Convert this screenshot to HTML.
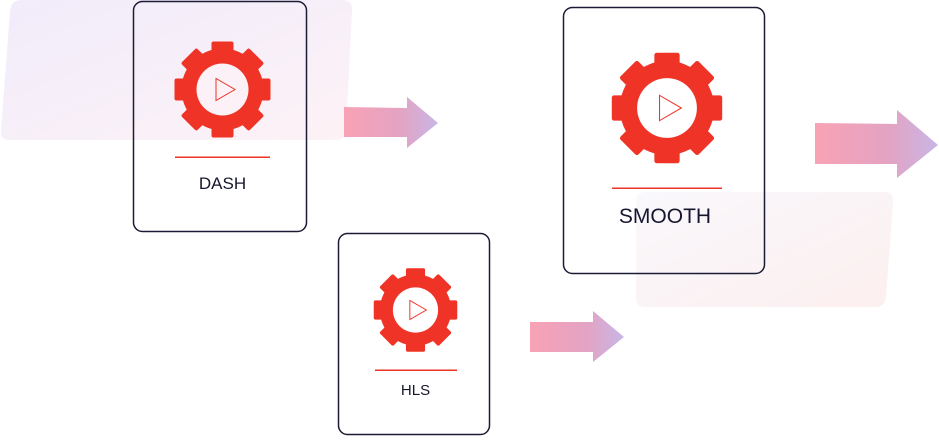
<!DOCTYPE html>
<html><head><meta charset="utf-8"><style>
html,body{margin:0;padding:0;background:#fff;}
body{width:939px;height:436px;overflow:hidden;}
svg text{font-family:"Liberation Sans",sans-serif;fill:#16162e;}
</style></head><body>
<svg width="939" height="436" viewBox="0 0 939 436" xmlns="http://www.w3.org/2000/svg">
<defs>
<linearGradient id="bg1" x1="0" y1="0" x2="1" y2="1">
<stop offset="0" stop-color="#f1ecfb"/><stop offset="1" stop-color="#fdf2f6"/></linearGradient>
<linearGradient id="bg2" x1="0" y1="0" x2="1" y2="1">
<stop offset="0" stop-color="#f9f8fc"/><stop offset="1" stop-color="#fcefef"/></linearGradient>
<linearGradient id="ar" x1="0" y1="0" x2="1" y2="0">
<stop offset="0" stop-color="#f9a2b5"/><stop offset="0.6" stop-color="#e3a3c3"/><stop offset="1" stop-color="#c8b6e6"/></linearGradient>
<g id="gear">
<circle r="41" fill="#ef3326"/>
<g fill="#ef3326">
<rect x="-11" y="-48" width="22" height="16" rx="2"/>
<rect x="-11" y="-48" width="22" height="16" rx="2" transform="rotate(45)"/>
<rect x="-11" y="-48" width="22" height="16" rx="2" transform="rotate(90)"/>
<rect x="-11" y="-48" width="22" height="16" rx="2" transform="rotate(135)"/>
<rect x="-11" y="-48" width="22" height="16" rx="2" transform="rotate(180)"/>
<rect x="-11" y="-48" width="22" height="16" rx="2" transform="rotate(225)"/>
<rect x="-11" y="-48" width="22" height="16" rx="2" transform="rotate(270)"/>
<rect x="-11" y="-48" width="22" height="16" rx="2" transform="rotate(315)"/>
</g>
</g>
</defs>
<path d="M22,0 H342 Q353,0 352,11 L346,130 Q345,140 335,140 H10 Q0,140 1,130 L10,11 Q11,0 22,0 Z" fill="url(#bg1)"/>
<path d="M646,192 H884 Q894,192 893,202 L886,297 Q885,307 875,307 H645 Q635,307 636,297 L636,202 Q636,192 646,192 Z" fill="url(#bg2)"/>

<!-- DASH -->
<rect x="133.5" y="1.5" width="173" height="230" rx="9" fill="none" stroke="#1b1b35" stroke-width="1.5"/>
<g transform="translate(222.5,89.5)">
<use href="#gear"/><circle r="26" fill="#fcf1f6"/>
<path d="M-6.5,-11 L-6.5,11 L12.5,0 Z" fill="none" stroke="#ef3326" stroke-width="1"/>
</g>
<rect x="175" y="156.5" width="95" height="1.5" fill="#ef3326"/>
<text x="222.5" y="189" font-size="17" text-anchor="middle">DASH</text>

<!-- SMOOTH -->
<rect x="563.5" y="7.5" width="201" height="266" rx="9" fill="none" stroke="#1b1b35" stroke-width="1.5"/>
<g transform="translate(667,108) scale(1.15)">
<use href="#gear"/><circle r="26" fill="#fff"/>
<path d="M-6.5,-11 L-6.5,11 L12.5,0 Z" fill="none" stroke="#ef3326" stroke-width="0.9"/>
</g>
<rect x="612" y="187.5" width="110" height="1.5" fill="#ef3326"/>
<text x="665" y="223" font-size="21" text-anchor="middle">SMOOTH</text>

<!-- HLS -->
<rect x="338.5" y="233.5" width="151" height="201" rx="9" fill="none" stroke="#1b1b35" stroke-width="1.5"/>
<g transform="translate(415.5,310) scale(0.87)">
<use href="#gear"/><circle r="26" fill="#fff"/>
<path d="M-6.5,-11 L-6.5,11 L12.5,0 Z" fill="none" stroke="#ef3326" stroke-width="1.1"/>
</g>
<rect x="375" y="369.5" width="82" height="1.5" fill="#ef3326"/>
<text x="415.5" y="395" font-size="15" text-anchor="middle">HLS</text>

<!-- arrows -->
<path d="M344,107 L407,108 L407,97 L438,123 L407,148 L407,137 L344,137 Z" fill="url(#ar)"/>
<path d="M815,123 L897,124 L897,110 L938,145 L897,178 L897,164 L815,164 Z" fill="url(#ar)"/>
<path d="M530,322 L593,322 L593,311 L624,337 L593,362 L593,352 L530,352 Z" fill="url(#ar)"/>
</svg>
</body></html>
